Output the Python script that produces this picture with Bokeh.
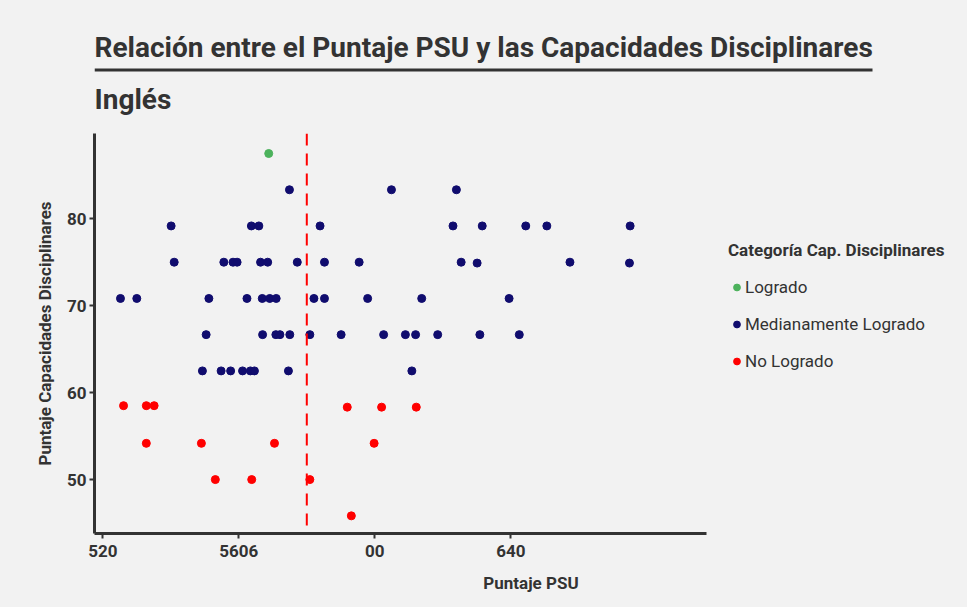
from bokeh.plotting import figure
from bokeh.models import Range1d, FixedTicker, Span, Legend, LegendItem
from bokeh.layouts import column
from bokeh.embed import file_html
from bokeh.resources import INLINE
from bokeh.core.properties import value

FONT = "Roboto"
TXT = "#333333"
BG = "#f2f2f2"

title_text = "Relación entre el Puntaje PSU y las Capacidades Disciplinares"
subtitle_text = "Inglés"
x_label = "Puntaje PSU"
y_label = "Puntaje Capacidades Disciplinares"
legend_title = "Categoría Cap. Disciplinares"
categories = ["Logrado", "Medianamente Logrado", "No Logrado"]
cat_colors = ["#4cb25c", "#100c6e", "#ff0000"]

x_ticks = [520, 560, 600, 640]
x_tick_labels = ["520", "5606", "00", "640"]
y_ticks = [50, 60, 70, 80]
psu_mean = 580.0

logrado_psu = [568.8]
logrado_cap = [87.5]

medio_psu = [574.9, 604.9, 624.0,
             540.1, 563.7, 565.9, 583.9, 623.0, 631.6, 644.4, 650.6, 675.1,
             541.0, 555.6, 558.3, 559.5, 566.4, 568.5, 577.2, 585.2, 595.4, 625.4, 630.1, 657.4, 674.9,
             525.2, 530.0, 551.2, 562.4, 566.9, 569.1, 571.0, 582.1, 585.2, 597.9, 613.8, 639.5,
             550.4, 567.0, 570.9, 572.1, 575.0, 580.9, 590.1, 602.6, 609.0, 612.0, 618.5, 630.9, 642.5,
             549.3, 554.8, 557.6, 561.1, 563.4, 564.6, 574.6, 610.9]
medio_cap = [83.33, 83.33, 83.33,
             79.17, 79.17, 79.17, 79.17, 79.17, 79.17, 79.17, 79.17, 79.17,
             75.0, 75.0, 75.0, 75.0, 75.0, 75.0, 75.0, 75.0, 75.0, 75.0, 74.9, 75.0, 74.9,
             70.83, 70.83, 70.83, 70.83, 70.83, 70.83, 70.83, 70.83, 70.83, 70.83, 70.83, 70.83,
             66.67, 66.67, 66.67, 66.67, 66.67, 66.67, 66.67, 66.67, 66.67, 66.67, 66.67, 66.67, 66.67,
             62.5, 62.5, 62.5, 62.5, 62.5, 62.5, 62.5, 62.5]

no_psu = [526.1, 532.8, 535.1, 591.9, 602.0, 612.2,
          532.8, 549.0, 570.5, 599.8,
          553.1, 563.8, 580.9,
          593.1]
no_cap = [58.5, 58.5, 58.5, 58.33, 58.33, 58.33,
          54.17, 54.17, 54.17, 54.17,
          50.0, 50.0, 50.0,
          45.83]

W = 967
H = 607
TOP_H = 128
MAIN_H = H - TOP_H
LEFT = 94
FRAME_W = W - LEFT
PX_PER_UNIT = 3.4
X0 = 517.56
X_AXIS_END = 697.56

# ---- main scatter (frame spans to right edge; axis limited by bounds) ----
p = figure(width=W, height=MAIN_H,
           x_range=Range1d(X0, X0 + FRAME_W / PX_PER_UNIT), y_range=Range1d(43.8, 89.8),
           output_backend="svg", toolbar_location=None,
           min_border_left=LEFT, min_border_right=0, min_border_top=5, min_border_bottom=74,
           background_fill_color=BG, border_fill_color=BG, outline_line_color=None)
p.grid.visible = False

p.add_layout(Span(location=psu_mean, dimension="height", line_color="#ff0000",
                  line_dash="12 8", line_width=2))

r_l = p.scatter(logrado_psu, logrado_cap, size=8, color=cat_colors[0])
r_m = p.scatter(medio_psu, medio_cap, size=8, color=cat_colors[1])
r_n = p.scatter(no_psu, no_cap, size=8, color=cat_colors[2])

for ax in (p.xaxis[0], p.yaxis[0]):
    ax.axis_line_width = 3
    ax.axis_line_color = TXT
    ax.major_tick_line_color = TXT
    ax.major_tick_line_width = 2
    ax.major_tick_out = 5
    ax.major_tick_in = 0
    ax.minor_tick_line_color = None
    ax.major_label_text_font = FONT
    ax.major_label_text_font_size = "17px"
    ax.major_label_text_font_style = "bold"
    ax.major_label_text_color = TXT
    ax.axis_label_text_font = FONT
    ax.axis_label_text_font_size = "17px"
    ax.axis_label_text_font_style = "bold"
    ax.axis_label_text_color = TXT

p.xaxis.ticker = FixedTicker(ticks=x_ticks)
p.xaxis.major_label_overrides = dict(zip(x_ticks, x_tick_labels))
p.xaxis.bounds = (X0, X_AXIS_END)
p.xaxis.axis_label = x_label
p.xaxis.major_label_standoff = 6
p.xaxis.axis_label_standoff = 13
p.yaxis.ticker = FixedTicker(ticks=y_ticks)
p.yaxis.axis_label = y_label
p.yaxis.major_label_standoff = 3
p.yaxis.axis_label_standoff = 9

legend = Legend(items=[LegendItem(label=categories[0], renderers=[r_l]),
                       LegendItem(label=categories[1], renderers=[r_m]),
                       LegendItem(label=categories[2], renderers=[r_n])],
                title=legend_title, location=(634, 162))
legend.title_text_font = FONT
legend.title_text_font_size = "17px"
legend.title_text_font_style = "bold"
legend.title_text_color = TXT
legend.title_standoff = 17
legend.label_text_font = FONT
legend.label_text_font_size = "17px"
legend.label_text_color = TXT
legend.glyph_width = 17
legend.glyph_height = 20
legend.label_height = 20
legend.label_standoff = 0
legend.spacing = 17
legend.padding = 5
legend.margin = 0
legend.background_fill_alpha = 0
legend.border_line_color = None
p.add_layout(legend, "center")

# ---- title block (its frame lines up with the main frame) ----
top = figure(width=W, height=TOP_H, x_range=Range1d(0, FRAME_W), y_range=Range1d(TOP_H, 0),
             output_backend="svg", toolbar_location=None,
             min_border_left=LEFT, min_border_right=0, min_border_top=0, min_border_bottom=0,
             x_axis_location=None, y_axis_location=None,
             background_fill_color=BG, border_fill_color=BG, outline_line_color=None)
top.grid.visible = False
top.text(x=[0], y=[47], text=[title_text], text_font=value(FONT), text_font_size="28px",
         text_font_style="bold", text_color=TXT, text_baseline="alphabetic", text_align="left")
top.segment(x0=[0], y0=[69.5], x1=[778], y1=[69.5], line_width=3, line_color=TXT)
top.text(x=[0], y=[99], text=[subtitle_text], text_font=value(FONT), text_font_size="28px",
         text_font_style="bold", text_color=TXT, text_baseline="alphabetic", text_align="left")

layout = column(top, p, styles={"background-color": BG})
open("out.html", "w").write(file_html(layout, INLINE))
